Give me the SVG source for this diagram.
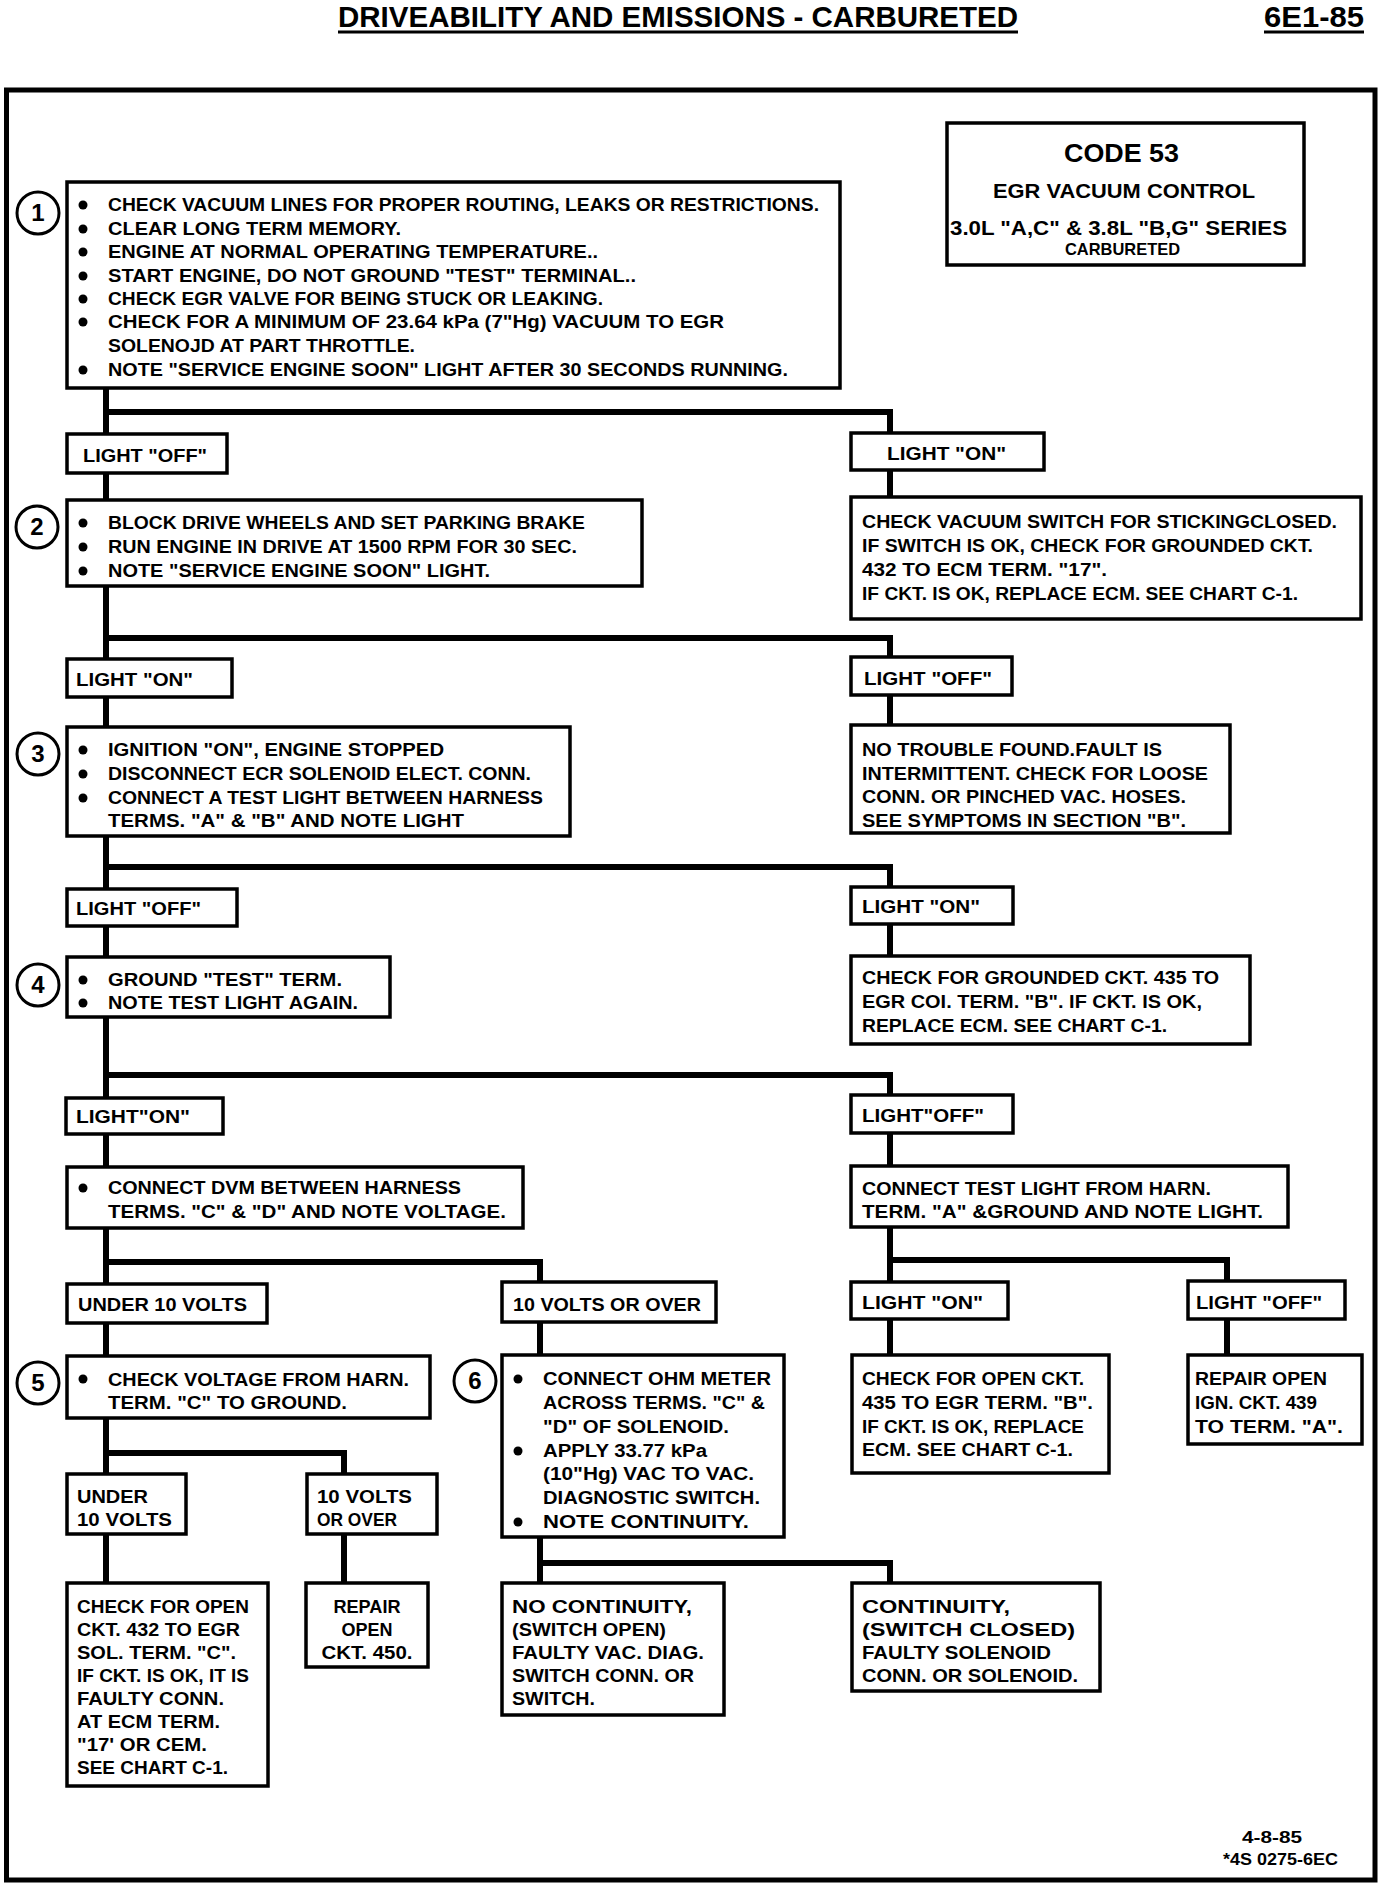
<svg xmlns="http://www.w3.org/2000/svg" width="1392" height="1888" viewBox="0 0 1392 1888">
<style>
.bx{fill:#fff;stroke:#000;stroke-width:3.5}
.ln{stroke:#000;stroke-width:6;fill:none;stroke-linecap:square}
.fr{fill:none;stroke:#000;stroke-width:5}
.t{font-family:"Liberation Sans Narrow","Liberation Sans",Arial,sans-serif;font-weight:bold;font-size:18px;fill:#000}
.c{text-anchor:middle}
.num{font-family:"Liberation Sans",Arial,sans-serif;font-weight:bold;font-size:24px;text-anchor:middle}
.cir{fill:#fff;stroke:#000;stroke-width:3}
.bul{fill:#000}
</style>
<rect width="1392" height="1888" fill="#fff"/>

<g id="header">
<text class="t" x="338" y="27" style="font-size:30px" textLength="680" lengthAdjust="spacingAndGlyphs">DRIVEABILITY AND EMISSIONS - CARBURETED</text>
<line x1="338" y1="32" x2="1018" y2="32" stroke="#000" stroke-width="3"/>
<text class="t" x="1264" y="27" style="font-size:30px" textLength="100" lengthAdjust="spacingAndGlyphs">6E1-85</text>
<line x1="1264" y1="32" x2="1364" y2="32" stroke="#000" stroke-width="3"/>
</g>

<rect class="fr" x="6.5" y="90" width="1368.5" height="1790"/>

<g id="connectors">
<line class="ln" x1="106" y1="388" x2="106" y2="1583"/>
<polyline class="ln" points="106,412 890,412 890,497"/>
<polyline class="ln" points="106,638 890,638 890,725"/>
<polyline class="ln" points="106,867 890,867 890,956"/>
<polyline class="ln" points="106,1075 890,1075 890,1355"/>
<polyline class="ln" points="890,1260 1227,1260 1227,1355"/>
<polyline class="ln" points="106,1262 540,1262 540,1583"/>
<polyline class="ln" points="106,1453 344,1453 344,1583"/>
<polyline class="ln" points="540,1563 890,1563 890,1583"/>
</g>

<g id="code53">
<rect class="bx" x="947" y="123" width="357" height="142"/>
<text class="t" x="1064" y="162" style="font-size:26px" textLength="115" lengthAdjust="spacingAndGlyphs">CODE 53</text>
<text class="t" x="993" y="198" style="font-size:19.5px" textLength="262" lengthAdjust="spacingAndGlyphs">EGR  VACUUM CONTROL</text>
<text class="t" x="950" y="235" style="font-size:19.5px" textLength="337" lengthAdjust="spacingAndGlyphs">3.0L "A,C" &amp;  3.8L "B,G" SERIES</text>
<text class="t" x="1065" y="255" style="font-size:17px" textLength="115" lengthAdjust="spacingAndGlyphs">CARBURETED</text>
</g>

<g id="step1">
<circle class="cir" cx="38" cy="213" r="21"/>
<text class="num" x="38" y="221">1</text>
<rect class="bx" x="67" y="182" width="773" height="206"/>
<circle class="bul" cx="83" cy="205" r="4.5"/>
<circle class="bul" cx="83" cy="229" r="4.5"/>
<circle class="bul" cx="83" cy="252" r="4.5"/>
<circle class="bul" cx="83" cy="276" r="4.5"/>
<circle class="bul" cx="83" cy="299" r="4.5"/>
<circle class="bul" cx="83" cy="322" r="4.5"/>
<circle class="bul" cx="83" cy="370" r="4.5"/>
<text class="t" x="108" y="211" textLength="711" lengthAdjust="spacingAndGlyphs">CHECK VACUUM LINES FOR PROPER ROUTING, LEAKS OR RESTRICTIONS.</text>
<text class="t" x="108" y="235" textLength="293" lengthAdjust="spacingAndGlyphs">CLEAR LONG TERM MEMORY.</text>
<text class="t" x="108" y="258" textLength="490" lengthAdjust="spacingAndGlyphs">ENGINE AT NORMAL OPERATING TEMPERATURE..</text>
<text class="t" x="108" y="282" textLength="528" lengthAdjust="spacingAndGlyphs">START ENGINE, DO NOT GROUND "TEST" TERMINAL..</text>
<text class="t" x="108" y="305" textLength="495" lengthAdjust="spacingAndGlyphs">CHECK EGR VALVE FOR BEING STUCK OR LEAKING.</text>
<text class="t" x="108" y="328" textLength="616" lengthAdjust="spacingAndGlyphs">CHECK FOR A MINIMUM OF 23.64 kPa (7"Hg) VACUUM TO EGR</text>
<text class="t" x="108" y="352" textLength="307" lengthAdjust="spacingAndGlyphs">SOLENOJD AT PART THROTTLE.</text>
<text class="t" x="108" y="376" textLength="680" lengthAdjust="spacingAndGlyphs">NOTE "SERVICE ENGINE SOON" LIGHT AFTER 30 SECONDS RUNNING.</text>
</g>

<g id="l1off"><rect class="bx" x="67" y="434" width="160" height="39"/>
<text class="t" x="83" y="462" textLength="124" lengthAdjust="spacingAndGlyphs">LIGHT "OFF"</text></g>
<g id="l1on"><rect class="bx" x="851" y="433" width="193" height="37"/>
<text class="t" x="887" y="460" textLength="119" lengthAdjust="spacingAndGlyphs">LIGHT "ON"</text></g>

<g id="step2">
<circle class="cir" cx="37" cy="527" r="21"/>
<text class="num" x="37" y="535">2</text>
<rect class="bx" x="67" y="500" width="575" height="86"/>
<circle class="bul" cx="83" cy="523" r="4.5"/>
<circle class="bul" cx="83" cy="547" r="4.5"/>
<circle class="bul" cx="83" cy="571" r="4.5"/>
<text class="t" x="108" y="529" textLength="477" lengthAdjust="spacingAndGlyphs">BLOCK DRIVE WHEELS AND SET PARKING BRAKE</text>
<text class="t" x="108" y="553" textLength="469" lengthAdjust="spacingAndGlyphs">RUN ENGINE IN DRIVE AT 1500 RPM FOR 30 SEC.</text>
<text class="t" x="108" y="577" textLength="382" lengthAdjust="spacingAndGlyphs">NOTE "SERVICE ENGINE SOON" LIGHT.</text>
</g>

<g id="r2">
<rect class="bx" x="851" y="497" width="510" height="122"/>
<text class="t" x="862" y="528" textLength="475" lengthAdjust="spacingAndGlyphs">CHECK VACUUM SWITCH FOR STICKINGCLOSED.</text>
<text class="t" x="862" y="552" textLength="451" lengthAdjust="spacingAndGlyphs">IF SWITCH IS OK, CHECK FOR GROUNDED CKT.</text>
<text class="t" x="862" y="576" textLength="245" lengthAdjust="spacingAndGlyphs">432 TO ECM TERM. "17".</text>
<text class="t" x="862" y="600" textLength="436" lengthAdjust="spacingAndGlyphs">IF CKT. IS OK, REPLACE ECM.  SEE CHART C-1.</text>
</g>

<g id="l2on"><rect class="bx" x="67" y="659" width="165" height="38"/>
<text class="t" x="76" y="686" textLength="117" lengthAdjust="spacingAndGlyphs">LIGHT "ON"</text></g>
<g id="l2off"><rect class="bx" x="851" y="657" width="161" height="38"/>
<text class="t" x="864" y="685" textLength="128" lengthAdjust="spacingAndGlyphs">LIGHT "OFF"</text></g>

<g id="step3">
<circle class="cir" cx="38" cy="754" r="21"/>
<text class="num" x="38" y="762">3</text>
<rect class="bx" x="67" y="727" width="503" height="109"/>
<circle class="bul" cx="83" cy="750" r="4.5"/>
<circle class="bul" cx="83" cy="774" r="4.5"/>
<circle class="bul" cx="83" cy="798" r="4.5"/>
<text class="t" x="108" y="756" textLength="336" lengthAdjust="spacingAndGlyphs">IGNITION "ON", ENGINE STOPPED</text>
<text class="t" x="108" y="780" textLength="423" lengthAdjust="spacingAndGlyphs">DISCONNECT ECR SOLENOID ELECT. CONN.</text>
<text class="t" x="108" y="804" textLength="435" lengthAdjust="spacingAndGlyphs">CONNECT A TEST LIGHT BETWEEN HARNESS</text>
<text class="t" x="108" y="827" textLength="356" lengthAdjust="spacingAndGlyphs">TERMS. "A" &amp; "B" AND NOTE LIGHT</text>
</g>

<g id="r3">
<rect class="bx" x="851" y="725" width="379" height="108"/>
<text class="t" x="862" y="756" textLength="300" lengthAdjust="spacingAndGlyphs">NO TROUBLE FOUND.FAULT IS</text>
<text class="t" x="862" y="780" textLength="346" lengthAdjust="spacingAndGlyphs">INTERMITTENT.  CHECK FOR LOOSE</text>
<text class="t" x="862" y="803" textLength="324" lengthAdjust="spacingAndGlyphs">CONN. OR PINCHED VAC. HOSES.</text>
<text class="t" x="862" y="827" textLength="324" lengthAdjust="spacingAndGlyphs">SEE SYMPTOMS IN SECTION "B".</text>
</g>

<g id="l3off"><rect class="bx" x="67" y="889" width="170" height="37"/>
<text class="t" x="76" y="915" textLength="125" lengthAdjust="spacingAndGlyphs">LIGHT "OFF"</text></g>
<g id="l3on"><rect class="bx" x="851" y="887" width="162" height="37"/>
<text class="t" x="862" y="913" textLength="118" lengthAdjust="spacingAndGlyphs">LIGHT "ON"</text></g>

<g id="step4">
<circle class="cir" cx="38" cy="985" r="21"/>
<text class="num" x="38" y="993">4</text>
<rect class="bx" x="67" y="957" width="323" height="60"/>
<circle class="bul" cx="83" cy="980" r="4.5"/>
<circle class="bul" cx="83" cy="1003" r="4.5"/>
<text class="t" x="108" y="986" textLength="234" lengthAdjust="spacingAndGlyphs">GROUND "TEST" TERM.</text>
<text class="t" x="108" y="1009" textLength="250" lengthAdjust="spacingAndGlyphs">NOTE TEST LIGHT AGAIN.</text>
</g>

<g id="r4">
<rect class="bx" x="851" y="956" width="399" height="88"/>
<text class="t" x="862" y="984" textLength="357" lengthAdjust="spacingAndGlyphs">CHECK FOR GROUNDED CKT. 435 TO</text>
<text class="t" x="862" y="1008" textLength="340" lengthAdjust="spacingAndGlyphs">EGR COI. TERM. "B".  IF CKT. IS OK,</text>
<text class="t" x="862" y="1032" textLength="305" lengthAdjust="spacingAndGlyphs">REPLACE ECM.  SEE CHART C-1.</text>
</g>

<g id="l4on"><rect class="bx" x="66" y="1098" width="157" height="36"/>
<text class="t" x="76" y="1123" textLength="114" lengthAdjust="spacingAndGlyphs">LIGHT"ON"</text></g>
<g id="l4off"><rect class="bx" x="851" y="1095" width="162" height="38"/>
<text class="t" x="862" y="1122" textLength="122" lengthAdjust="spacingAndGlyphs">LIGHT"OFF"</text></g>

<g id="dvm">
<rect class="bx" x="67" y="1167" width="456" height="61"/>
<circle class="bul" cx="83" cy="1188" r="4.5"/>
<text class="t" x="108" y="1194" textLength="353" lengthAdjust="spacingAndGlyphs">CONNECT DVM BETWEEN HARNESS</text>
<text class="t" x="108" y="1218" textLength="398" lengthAdjust="spacingAndGlyphs">TERMS. "C" &amp; "D" AND NOTE VOLTAGE.</text>
</g>

<g id="r5">
<rect class="bx" x="851" y="1166" width="437" height="61"/>
<text class="t" x="862" y="1195" textLength="349" lengthAdjust="spacingAndGlyphs">CONNECT TEST LIGHT FROM HARN.</text>
<text class="t" x="862" y="1218" textLength="401" lengthAdjust="spacingAndGlyphs">TERM. "A" &amp;GROUND AND NOTE LIGHT.</text>
</g>

<g id="u10"><rect class="bx" x="67" y="1284" width="200" height="39"/>
<text class="t" x="78" y="1311" textLength="169" lengthAdjust="spacingAndGlyphs">UNDER 10 VOLTS</text></g>
<g id="o10"><rect class="bx" x="502" y="1282" width="214" height="40"/>
<text class="t" x="513" y="1311" textLength="188" lengthAdjust="spacingAndGlyphs">10 VOLTS OR OVER</text></g>
<g id="l5on"><rect class="bx" x="851" y="1282" width="157" height="37"/>
<text class="t" x="862" y="1309" textLength="121" lengthAdjust="spacingAndGlyphs">LIGHT "ON"</text></g>
<g id="l5off"><rect class="bx" x="1188" y="1281" width="157" height="38"/>
<text class="t" x="1196" y="1309" textLength="126" lengthAdjust="spacingAndGlyphs">LIGHT "OFF"</text></g>

<g id="step5">
<circle class="cir" cx="38" cy="1383" r="21"/>
<text class="num" x="38" y="1391">5</text>
<rect class="bx" x="67" y="1356" width="363" height="62"/>
<circle class="bul" cx="83" cy="1379" r="4.5"/>
<text class="t" x="108" y="1386" textLength="301" lengthAdjust="spacingAndGlyphs">CHECK VOLTAGE FROM HARN.</text>
<text class="t" x="108" y="1409" textLength="239" lengthAdjust="spacingAndGlyphs">TERM. "C" TO GROUND.</text>
</g>

<g id="step6">
<circle class="cir" cx="475" cy="1381" r="21"/>
<text class="num" x="475" y="1389">6</text>
<rect class="bx" x="502" y="1355" width="282" height="182"/>
<circle class="bul" cx="518" cy="1379" r="4.5"/>
<circle class="bul" cx="518" cy="1451" r="4.5"/>
<circle class="bul" cx="518" cy="1522" r="4.5"/>
<text class="t" x="543" y="1385" textLength="228" lengthAdjust="spacingAndGlyphs">CONNECT OHM METER</text>
<text class="t" x="543" y="1409" textLength="222" lengthAdjust="spacingAndGlyphs">ACROSS TERMS. "C" &amp;</text>
<text class="t" x="543" y="1433" textLength="186" lengthAdjust="spacingAndGlyphs">"D" OF SOLENOID.</text>
<text class="t" x="543" y="1457" textLength="164" lengthAdjust="spacingAndGlyphs">APPLY 33.77 kPa</text>
<text class="t" x="543" y="1480" textLength="211" lengthAdjust="spacingAndGlyphs">(10"Hg) VAC TO VAC.</text>
<text class="t" x="543" y="1504" textLength="217" lengthAdjust="spacingAndGlyphs">DIAGNOSTIC SWITCH.</text>
<text class="t" x="543" y="1528" textLength="206" lengthAdjust="spacingAndGlyphs">NOTE CONTINUITY.</text>
</g>

<g id="ropen435">
<rect class="bx" x="852" y="1355" width="257" height="118"/>
<text class="t" x="862" y="1385" textLength="222" lengthAdjust="spacingAndGlyphs">CHECK FOR OPEN CKT.</text>
<text class="t" x="862" y="1409" textLength="231" lengthAdjust="spacingAndGlyphs">435 TO EGR TERM. "B".</text>
<text class="t" x="862" y="1433" textLength="222" lengthAdjust="spacingAndGlyphs">IF CKT. IS OK, REPLACE</text>
<text class="t" x="862" y="1456" textLength="211" lengthAdjust="spacingAndGlyphs">ECM.  SEE CHART C-1.</text>
</g>

<g id="rign">
<rect class="bx" x="1188" y="1355" width="174" height="89"/>
<text class="t" x="1195" y="1385" textLength="132" lengthAdjust="spacingAndGlyphs">REPAIR OPEN</text>
<text class="t" x="1195" y="1409" textLength="122" lengthAdjust="spacingAndGlyphs">IGN. CKT. 439</text>
<text class="t" x="1195" y="1433" textLength="148" lengthAdjust="spacingAndGlyphs">TO TERM. "A".</text>
</g>

<g id="su10"><rect class="bx" x="67" y="1474" width="119" height="60"/>
<text class="t" x="77" y="1503" textLength="71" lengthAdjust="spacingAndGlyphs">UNDER</text>
<text class="t" x="77" y="1526" textLength="95" lengthAdjust="spacingAndGlyphs">10 VOLTS</text></g>
<g id="so10"><rect class="bx" x="307" y="1474" width="130" height="60"/>
<text class="t" x="317" y="1503" textLength="95" lengthAdjust="spacingAndGlyphs">10 VOLTS</text>
<text class="t" x="317" y="1526" textLength="80" lengthAdjust="spacingAndGlyphs">OR OVER</text></g>

<g id="c432">
<rect class="bx" x="67" y="1583" width="201" height="203"/>
<text class="t" x="77" y="1613" textLength="172" lengthAdjust="spacingAndGlyphs">CHECK FOR OPEN</text>
<text class="t" x="77" y="1636" textLength="163" lengthAdjust="spacingAndGlyphs">CKT. 432 TO EGR</text>
<text class="t" x="77" y="1659" textLength="159" lengthAdjust="spacingAndGlyphs">SOL. TERM. "C".</text>
<text class="t" x="77" y="1682" textLength="172" lengthAdjust="spacingAndGlyphs">IF CKT. IS OK, IT IS</text>
<text class="t" x="77" y="1705" textLength="147" lengthAdjust="spacingAndGlyphs">FAULTY CONN.</text>
<text class="t" x="77" y="1728" textLength="143" lengthAdjust="spacingAndGlyphs">AT ECM TERM.</text>
<text class="t" x="77" y="1751" textLength="130" lengthAdjust="spacingAndGlyphs">"17' OR CEM.</text>
<text class="t" x="77" y="1774" textLength="151" lengthAdjust="spacingAndGlyphs">SEE CHART C-1.</text>
</g>

<g id="r450">
<rect class="bx" x="306" y="1583" width="122" height="84"/>
<text class="t c" x="367" y="1613" textLength="67" lengthAdjust="spacingAndGlyphs">REPAIR</text>
<text class="t c" x="367" y="1636" textLength="51" lengthAdjust="spacingAndGlyphs">OPEN</text>
<text class="t c" x="367" y="1659" textLength="91" lengthAdjust="spacingAndGlyphs">CKT. 450.</text>
</g>

<g id="nocont">
<rect class="bx" x="502" y="1583" width="222" height="132"/>
<text class="t" x="512" y="1613" textLength="180" lengthAdjust="spacingAndGlyphs">NO CONTINUITY,</text>
<text class="t" x="512" y="1636" textLength="154" lengthAdjust="spacingAndGlyphs">(SWITCH OPEN)</text>
<text class="t" x="512" y="1659" textLength="192" lengthAdjust="spacingAndGlyphs">FAULTY VAC. DIAG.</text>
<text class="t" x="512" y="1682" textLength="182" lengthAdjust="spacingAndGlyphs">SWITCH CONN. OR</text>
<text class="t" x="512" y="1705" textLength="83" lengthAdjust="spacingAndGlyphs">SWITCH.</text>
</g>

<g id="cont">
<rect class="bx" x="852" y="1583" width="248" height="108"/>
<text class="t" x="862" y="1613" textLength="148" lengthAdjust="spacingAndGlyphs">CONTINUITY,</text>
<text class="t" x="862" y="1636" textLength="213" lengthAdjust="spacingAndGlyphs">(SWITCH CLOSED)</text>
<text class="t" x="862" y="1659" textLength="189" lengthAdjust="spacingAndGlyphs">FAULTY SOLENOID</text>
<text class="t" x="862" y="1682" textLength="216" lengthAdjust="spacingAndGlyphs">CONN. OR SOLENOID.</text>
</g>

<g id="footer">
<text class="t" x="1242" y="1843" style="font-size:17px" textLength="60" lengthAdjust="spacingAndGlyphs">4-8-85</text>
<text class="t" x="1223" y="1865" style="font-size:17px" textLength="115" lengthAdjust="spacingAndGlyphs">*4S 0275-6EC</text>
</g>
</svg>
